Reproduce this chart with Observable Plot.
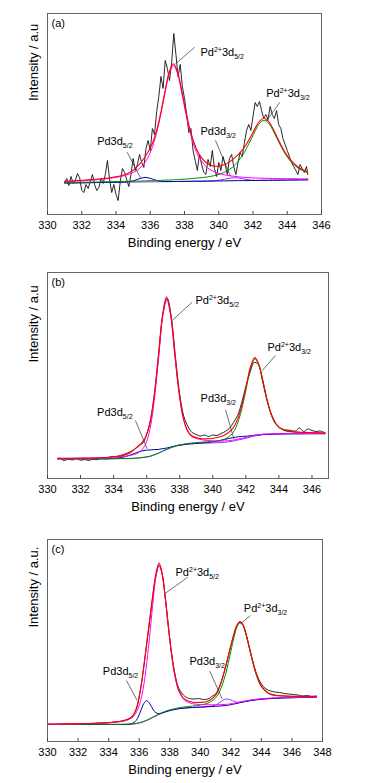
<!DOCTYPE html>
<html><head><meta charset="utf-8">
<script src="https://cdn.jsdelivr.net/npm/d3@7"></script>
<script src="https://cdn.jsdelivr.net/npm/@observablehq/plot@0.6"></script>
<style>
body{margin:0;background:#fff;}
#wrap{width:367px;}
#wrap svg{display:block;}
</style></head><body><div id="wrap"></div>
<script>
// ---------- Panel (a) ----------
const ticksA = [330, 332, 334, 336, 338, 340, 342, 344, 346];
const energyA = [331, 332, 333, 334, 334.5, 335, 335.35, 335.7, 336.05, 336.35, 336.6, 336.85, 337.1, 337.35, 337.6, 337.85, 338.1, 338.35, 338.6, 338.85, 339.35, 339.85, 340.35, 340.9, 341.4, 341.65, 341.9, 342.15, 342.4, 342.65, 342.9, 343.15, 343.4, 343.65, 343.9, 344.15, 344.65, 345.2];
const envelopeA = [33.3, 34.2, 35.5, 37.8, 39.8, 44.1, 49.8, 57.7, 68.2, 82.7, 100.6, 122.2, 142.0, 150.7, 142.4, 122.9, 101.4, 83.2, 69.7, 60.4, 50.8, 48.2, 50.0, 56.2, 64.9, 71.2, 78.8, 87.1, 93.6, 96.2, 93.4, 86.4, 77.6, 69.1, 61.5, 55.4, 47.3, 42.6];
const pd2_52A = [33.0, 33.7, 35.0, 37.1, 38.9, 42.0, 45.7, 52.2, 63.9, 80.1, 98.8, 120.6, 140.4, 149.0, 140.5, 120.8, 99.1, 80.6, 66.8, 57.1, 46.6, 42.0, 39.6, 38.2, 37.3, 37.0, 36.7, 36.5, 36.3, 36.2, 36.1, 36.0, 35.9, 35.9, 35.8, 35.8, 35.7, 35.6];
const pd2_32A = [31.9, 32.2, 32.5, 32.9, 33.1, 33.3, 33.4, 33.6, 33.8, 33.9, 34.1, 34.4, 34.5, 34.7, 34.9, 35.2, 35.4, 35.8, 36.2, 36.6, 37.6, 39.3, 42.3, 48.8, 59.6, 67.1, 75.7, 84.4, 91.4, 94.2, 91.5, 84.7, 76.0, 67.6, 60.1, 54.1, 46.2, 41.7];
const pd0_52A = [31.5, 31.7, 32.0, 32.2, 32.4, 33.6, 35.7, 37.1, 35.9, 34.1, 33.3, 33.0, 32.9, 33.0, 33.0, 33.1, 33.1, 33.2, 33.3, 33.3, 33.4, 33.5, 33.6, 33.8, 33.9, 33.9, 34.0, 34.0, 34.1, 34.2, 34.2, 34.3, 34.3, 34.4, 34.4, 34.5, 34.6, 34.7];
const pd0_32A = [31.5, 31.7, 32.0, 32.2, 32.3, 32.4, 32.5, 32.6, 32.7, 32.7, 32.8, 32.9, 32.9, 33.0, 33.0, 33.1, 33.1, 33.2, 33.3, 33.3, 33.4, 33.9, 35.3, 36.8, 35.8, 34.9, 34.4, 34.15, 34.1, 34.2, 34.2, 34.3, 34.3, 34.4, 34.4, 34.5, 34.6, 34.7];
const rawEnergyA = [331.000, 331.125, 331.250, 331.375, 331.500, 331.625, 331.750, 331.875, 332.000, 332.125, 332.250, 332.375, 332.500, 332.625, 332.750, 332.875, 333.000, 333.125, 333.250, 333.375, 333.500, 333.625, 333.750, 333.875, 334.000, 334.125, 334.250, 334.375, 334.500, 334.625, 334.750, 334.875, 335.000, 335.125, 335.250, 335.375, 335.500, 335.625, 335.750, 335.875, 336.000, 336.125, 336.250, 336.375, 336.500, 336.625, 336.750, 336.875, 337.000, 337.125, 337.250, 337.375, 337.500, 337.625, 337.750, 337.875, 338.000, 338.125, 338.250, 338.375, 338.500, 338.625, 338.750, 338.875, 339.000, 339.125, 339.250, 339.375, 339.500, 339.625, 339.750, 339.875, 340.000, 340.125, 340.250, 340.375, 340.500, 340.625, 340.750, 340.875, 341.000, 341.125, 341.250, 341.375, 341.500, 341.625, 341.750, 341.875, 342.000, 342.125, 342.250, 342.375, 342.500, 342.625, 342.750, 342.875, 343.000, 343.125, 343.250, 343.375, 343.500, 343.625, 343.750, 343.875, 344.000, 344.125, 344.250, 344.375, 344.500, 344.625, 344.750, 344.875, 345.000, 345.125, 345.200];
const rawA = [32, 36, 29, 38, 31, 34, 41, 37, 24, 22, 30, 26, 33, 40, 30, 24, 27, 36, 31, 40, 54, 35, 22, 30, 20, 14, 33, 46, 42, 35, 28, 40, 56, 44, 50, 60, 52, 47, 66, 74, 64, 86, 80, 103, 118, 138, 126, 154, 146, 134, 152, 181, 160, 138, 150, 128, 116, 100, 82, 86, 64, 54, 44, 60, 50, 42, 40, 55, 48, 64, 46, 38, 52, 44, 58, 50, 40, 56, 60, 48, 40, 52, 62, 58, 72, 84, 90, 84, 98, 112, 108, 113, 104, 96, 100, 95, 108, 100, 96, 104, 90, 86, 76, 70, 64, 58, 52, 48, 44, 40, 50, 46, 42, 48, 40];

// ---------- Panel (b) ----------
const ticksB = [330, 332, 334, 336, 338, 340, 342, 344, 346];
const energyB = [330.6, 331, 332, 333, 334, 334.5, 335, 335.5, 335.9, 336.2, 336.45, 336.7, 336.95, 337.2, 337.45, 337.7, 337.95, 338.2, 338.45, 338.7, 339.2, 339.7, 340.2, 340.7, 341.2, 341.55, 341.8, 342.05, 342.3, 342.55, 342.8, 343.05, 343.3, 343.55, 343.8, 344.3, 344.8, 345.3, 345.8, 346.3, 346.8];
const envelopeB = [20.2, 20.2, 20.4, 20.7, 21.7, 23.4, 26.7, 32.1, 40.4, 56.2, 82.7, 121.3, 162.5, 181.8, 164.3, 124.8, 87.3, 61.7, 48.7, 43.0, 40.0, 39.7, 40.7, 43.3, 49.8, 61.6, 76.1, 94.8, 112.7, 120.9, 113.4, 96.4, 77.8, 63.7, 55.0, 48.4, 46.9, 46.3, 46.0, 45.7, 45.5];
const pd2_52B = [20.1, 20.1, 20.3, 20.6, 21.2, 21.9, 23.0, 25.8, 33.2, 49.4, 77.0, 117.0, 159.5, 179.8, 163.0, 124.0, 86.6, 61.1, 48.1, 42.3, 39.1, 38.0, 37.4, 37.5, 38.3, 39.5, 40.3, 41.1, 42.2, 43.2, 43.7, 44.4, 44.5, 44.7, 44.8, 44.9, 45.0, 45.0, 45.0, 45.0, 45.0];
const pd2_32B = [19.8, 19.8, 19.8, 19.8, 19.9, 20.0, 20.1, 20.6, 21.4, 22.3, 23.8, 25.3, 27.4, 29.2, 31.0, 32.4, 33.6, 34.2, 35.0, 35.4, 36.2, 36.7, 37.5, 39.2, 45.3, 57.6, 72.7, 92.2, 110.9, 119.6, 112.5, 95.7, 77.3, 63.3, 54.6, 48.1, 46.6, 46.0, 45.8, 45.5, 45.4];
const pd0B = [19.7, 19.7, 19.7, 19.7, 20.0, 21.1, 23.4, 26.5, 28.2, 28.5, 28.9, 29.0, 29.8, 30.4, 31.5, 32.4, 33.3, 33.8, 34.4, 34.7, 35.3, 36.0, 37.2, 39.0, 40.8, 41.75, 42.1, 42.3, 42.8, 43.3, 43.6, 44.1, 44.2, 44.3, 44.4, 44.6, 44.7, 44.7, 44.8, 44.8, 44.8];
const backgroundB = [19.7, 19.7, 19.7, 19.7, 19.7, 19.8, 19.9, 20.4, 21.2, 22.0, 23.5, 25.0, 27.1, 28.8, 30.6, 32.0, 33.1, 33.7, 34.4, 34.7, 35.3, 35.5, 35.7, 36.2, 37.3, 38.6, 39.5, 40.4, 41.6, 42.6, 43.2, 43.9, 44.1, 44.3, 44.4, 44.6, 44.7, 44.7, 44.8, 44.8, 44.8];
const rawEnergyB = [330.75, 331.00, 331.25, 331.50, 331.75, 332.00, 332.25, 332.50, 332.75, 333.00, 333.25, 333.50, 333.75, 334.00, 334.25, 334.50, 334.75, 335.00, 335.25, 335.50, 335.75, 336.00, 336.25, 336.50, 336.75, 337.00, 337.25, 337.50, 337.75, 338.00, 338.25, 338.50, 338.75, 339.00, 339.25, 339.50, 339.75, 340.00, 340.25, 340.50, 340.75, 341.00, 341.25, 341.50, 341.75, 342.00, 342.25, 342.50, 342.75, 343.00, 343.25, 343.50, 343.75, 344.00, 344.25, 344.50, 344.75, 345.00, 345.25, 345.50, 345.75, 346.00, 346.25, 346.50, 346.75];
const rawB = [20.5, 18.0, 19.5, 18.5, 20.0, 18.2, 19.0, 18.0, 19.5, 18.8, 20.5, 19.5, 21.5, 22.0, 21.5, 22.5, 24.0, 25.5, 29.0, 33.0, 35.0, 44.0, 60.0, 88.0, 128.0, 166.0, 180.0, 160.0, 120.0, 84.0, 62.0, 52.0, 46.0, 44.0, 42.5, 43.5, 42.0, 43.5, 43.0, 45.0, 47.0, 50.0, 56.0, 63.0, 76.0, 92.0, 106.0, 116.0, 114.0, 98.0, 80.0, 66.0, 57.0, 51.0, 49.0, 48.5, 48.0, 47.5, 50.5, 47.0, 49.5, 48.0, 47.0, 47.5, 46.0];

// ---------- Panel (c) ----------
const ticksC = [330, 332, 334, 336, 338, 340, 342, 344, 346, 348];
const energyC = [330, 331, 332, 333, 334, 334.5, 335, 335.5, 335.8, 336.1, 336.3, 336.5, 336.7, 336.9, 337.1, 337.3, 337.5, 337.7, 337.9, 338.1, 338.3, 338.6, 339, 339.5, 340, 340.5, 341, 341.3, 341.65, 342, 342.2, 342.4, 342.6, 342.8, 343, 343.2, 343.4, 343.7, 344, 344.5, 345, 345.5, 346, 346.5, 347, 347.6];
const envelopeC = [17.5, 17.6, 17.9, 18.3, 19.0, 19.6, 20.8, 24.2, 32.2, 53.4, 75.0, 99.2, 123.4, 147.6, 168.5, 178.5, 168.4, 144.9, 116.5, 90.0, 69.5, 51.1, 42.0, 39.3, 39.1, 40.3, 46.2, 56.2, 74.5, 95.8, 107.4, 116.3, 119.9, 116.5, 107.0, 94.6, 81.8, 65.7, 55.4, 48.0, 46.2, 45.6, 45.3, 45.2, 45.2, 45.1];
const pd2_52C = [17.4, 17.5, 17.7, 18.1, 18.8, 19.4, 20.5, 23.5, 28.7, 41.2, 56.5, 79.0, 107.7, 138.8, 164.8, 176.0, 167.6, 144.3, 115.8, 89.3, 68.7, 50.2, 40.9, 37.8, 37.0, 36.7, 36.7, 36.8, 37.1, 37.7, 38.25, 38.9, 39.5, 40.2, 40.7, 41.3, 41.75, 42.3, 42.8, 43.3, 43.65, 43.9, 44.1, 44.25, 44.4, 44.5];
const pd2_32C = [17.1, 17.1, 17.1, 17.2, 17.2, 17.2, 17.3, 17.6, 18.1, 19.2, 20.2, 21.4, 22.8, 24.5, 26.0, 27.5, 28.9, 30.1, 31.2, 32.0, 32.8, 33.7, 34.6, 35.5, 36.5, 38.3, 43.5, 51.1, 67.0, 90.1, 103.7, 114.3, 118.8, 115.7, 106.4, 94.0, 81.2, 65.2, 54.9, 47.6, 45.8, 45.3, 45.1, 45.0, 45.0, 44.9];
const pd0_52C = [17.0, 17.0, 17.0, 17.0, 17.0, 17.0, 17.0, 17.7, 21.0, 30.6, 37.9, 40.8, 37.7, 32.3, 28.7, 27.9, 28.5, 29.5, 30.5, 31.3, 32.0, 32.8, 33.5, 34.0, 34.4, 34.8, 35.2, 35.5, 36.0, 36.8, 37.4, 38.1, 38.8, 39.5, 40.1, 40.7, 41.2, 41.8, 42.3, 42.9, 43.3, 43.6, 43.8, 44.0, 44.2, 44.3];
const pd0_32C = [17.0, 17.0, 17.0, 17.0, 17.0, 17.0, 17.0, 17.3, 17.8, 18.8, 19.8, 21.0, 22.4, 24.0, 25.5, 27.0, 28.3, 29.5, 30.5, 31.3, 32.0, 32.8, 33.5, 34.0, 34.4, 34.85, 36.4, 39.3, 42.4, 41.6, 40.2, 39.3, 39.2, 39.6, 40.1, 40.7, 41.2, 41.8, 42.3, 42.9, 43.3, 43.6, 43.8, 44.0, 44.2, 44.3];
const rawEnergyC = [330, 330.5, 331, 331.5, 332, 332.5, 333, 333.5, 334, 334.5, 335, 335.5, 335.8, 336.1, 336.3, 336.5, 336.7, 336.9, 337.1, 337.3, 337.5, 337.7, 337.9, 338.1, 338.3, 338.6, 339.0, 339.3, 339.6, 339.9, 340.2, 340.5, 340.8, 341.0, 341.3, 341.65, 342.0, 342.2, 342.4, 342.6, 342.8, 343.0, 343.2, 343.4, 343.7, 344.0, 344.3, 344.6, 344.9, 345.2, 345.5, 345.8, 346.1, 346.4, 346.7, 347.0, 347.3, 347.6];
const rawC = [17.2, 17.0, 17.4, 17.1, 17.6, 17.5, 18.0, 18.2, 18.6, 19.6, 21.0, 24.5, 32.0, 53.0, 74.0, 98.0, 122.0, 146.0, 166.0, 176.5, 168.0, 145.5, 117.0, 91.0, 71.0, 53.0, 45.0, 43.0, 42.5, 43.0, 42.0, 42.5, 45.5, 47.5, 56.5, 74.0, 95.5, 107.0, 116.0, 119.5, 116.5, 107.5, 95.0, 82.5, 67.0, 57.5, 52.5, 50.5, 49.5, 49.0, 48.0, 47.5, 47.0, 46.5, 45.5, 46.0, 45.0, 45.5];

// ---------- Peak annotations (data coordinates) ----------
const notesA = [
  {tx: 338.93, ty: 159, a: "Pd", sup: "2+", b: "3d", sub: "5/2", x1: 338.60, y1: 167.3, x2: 337.47, y2: 150.7},
  {tx: 342.77, ty: 117.3, a: "Pd", sup: "2+", b: "3d", sub: "3/2", x1: 343.57, y1: 112.3, x2: 342.77, y2: 93.3},
  {tx: 332.90, ty: 70, a: "Pd3d", sup: "", b: "", sub: "5/2", x1: 334.65, y1: 62.3, x2: 335.43, y2: 36.7},
  {tx: 338.93, ty: 79.7, a: "Pd3d", sup: "", b: "", sub: "3/2", x1: 339.81, y1: 74, x2: 340.69, y2: 38}
];
const notesB = [
  {tx: 338.95, ty: 174.7, a: "Pd", sup: "2+", b: "3d", sub: "5/2", x1: 338.75, y1: 176.3, x2: 337.54, y2: 158},
  {tx: 343.31, ty: 128, a: "Pd", sup: "2+", b: "3d", sub: "3/2", x1: 343.79, y1: 123, x2: 342.99, y2: 108},
  {tx: 333.0, ty: 63, a: "Pd3d", sup: "", b: "", sub: "5/2", x1: 335.32, y1: 58, x2: 336.03, y2: 29.7},
  {tx: 339.26, ty: 76.3, a: "Pd3d", sup: "", b: "", sub: "3/2", x1: 340.77, y1: 68.7, x2: 341.27, y2: 39.7}
];
const notesC = [
  {tx: 338.38, ty: 166, a: "Pd", sup: "2+", b: "3d", sub: "5/2", x1: 339.18, y1: 164.3, x2: 337.72, y2: 148.3},
  {tx: 342.85, ty: 129.3, a: "Pd", sup: "2+", b: "3d", sub: "3/2", x1: 343.29, y1: 126, x2: 342.63, y2: 117.7},
  {tx: 333.62, ty: 67, a: "Pd3d", sup: "", b: "", sub: "5/2", x1: 335.17, y1: 61, x2: 335.87, y2: 41},
  {tx: 339.29, ty: 77, a: "Pd3d", sup: "", b: "", sub: "3/2", x1: 340.62, y1: 70.3, x2: 341.43, y2: 42.7}
];

const FONT = "'Liberation Sans', Arial, Helvetica, sans-serif";
const COL = {raw: "#111111", env: "#ff0000", p52: "#ff00ff", p32: "#009000", navy: "#000099", violet: "#9a30ff"};

function rows(E, V) { return E.map((e, i) => ({e, v: V[i]})); }
const noteText = d => d.a + d.sup + d.b + d.sub;

function panel(o) {
  const marks = [];
  marks.push(Plot.lineY(rows(o.rawE, o.raw), {x: "e", y: "v", stroke: COL.raw, strokeWidth: 0.9, curve: o.rawCurve}));
  for (const c of o.curves) {
    marks.push(Plot.lineY(rows(o.E, c.v), {x: "e", y: "v", stroke: c.color, strokeWidth: c.w || 1, curve: "catmull-rom"}));
  }
  marks.push(Plot.frame({stroke: "#666", strokeWidth: 1}));
  marks.push(Plot.ruleX(o.ticks, {x: d => d, y1: 0, y2: 3, stroke: "#444"}));
  marks.push(Plot.text(o.ticks, {x: d => d, frameAnchor: "bottom", dy: 11, text: d => String(d), fontSize: 11, lineAnchor: "middle", fill: "#000"}));
  marks.push(Plot.text(["Binding energy / eV"], {frameAnchor: "bottom", dy: 28, text: d => d, fontSize: 13, lineAnchor: "middle", fill: "#000"}));
  marks.push(Plot.text([o.ylabel], {frameAnchor: "left", rotate: -90, dx: -14, dy: -13, text: d => d, fontSize: 13, lineAnchor: "middle", fill: "#000"}));
  marks.push(Plot.text([o.letter], {frameAnchor: "top-left", dx: 4, dy: 10, text: d => d, fontSize: 11, textAnchor: "start", lineAnchor: "middle", fill: "#000"}));
  marks.push(Plot.link(o.notes, {x1: "x1", y1: "y1", x2: "x2", y2: "y2", stroke: "#333", strokeWidth: 0.7}));
  marks.push(Plot.text(o.notes, {x: "tx", y: "ty", text: noteText, textAnchor: "start", lineAnchor: "bottom", fontSize: 11, fill: "#000"}));
  const svg = Plot.plot({
    width: 367, height: o.height,
    marginTop: o.mt, marginBottom: o.mb, marginLeft: 47, marginRight: o.mr,
    x: {domain: o.domain, axis: null},
    y: {domain: [0, o.yMax], axis: null},
    style: {fontFamily: FONT, background: "#fff", color: "#000", overflow: "visible"},
    marks
  });
  // Turn the peak labels into real sup/subscript text
  const NS = "http://www.w3.org/2000/svg";
  const pending = o.notes.slice();
  svg.querySelectorAll("text").forEach(t => {
    const k = pending.findIndex(d => noteText(d) === t.textContent);
    if (k < 0) return;
    const d = pending.splice(k, 1)[0];
    t.textContent = "";
    const add = (s, size, dy) => {
      const ts = document.createElementNS(NS, "tspan");
      ts.textContent = s;
      if (size) ts.setAttribute("font-size", size);
      if (dy) ts.setAttribute("dy", dy);
      t.appendChild(ts);
    };
    add(d.a, null, 0);
    if (d.sup) { add(d.sup, 7, -4); add(d.b, 11, 4); }
    add(d.sub, 7, 3);
  });
  return svg;
}

const wrap = document.getElementById("wrap");
wrap.appendChild(panel({
  letter: "(a)", ylabel: "Intensity / a.u", domain: [330, 346], ticks: ticksA, yMax: 201,
  height: 255, mt: 13, mb: 41, mr: 46,
  rawE: rawEnergyA, raw: rawA, rawCurve: "linear", E: energyA, notes: notesA,
  curves: [
    {v: pd0_32A, color: COL.violet},
    {v: pd0_52A, color: COL.navy},
    {v: pd2_32A, color: COL.p32},
    {v: pd2_52A, color: COL.p52},
    {v: envelopeA, color: COL.env, w: 1.1}
  ]
}));
wrap.appendChild(panel({
  letter: "(b)", ylabel: "Intensity / a.u", domain: [330, 347], ticks: ticksB, yMax: 206,
  height: 265, mt: 17, mb: 42, mr: 39,
  rawE: rawEnergyB, raw: rawB, rawCurve: "catmull-rom", E: energyB, notes: notesB,
  curves: [
    {v: backgroundB, color: COL.violet},
    {v: pd0B, color: COL.navy},
    {v: pd2_32B, color: COL.p32},
    {v: pd2_52B, color: COL.p52},
    {v: envelopeB, color: COL.env, w: 1.1}
  ]
}));
wrap.appendChild(panel({
  letter: "(c)", ylabel: "Intensity / a.u.", domain: [330, 348], ticks: ticksC, yMax: 202,
  height: 263, mt: 19, mb: 42, mr: 45,
  rawE: rawEnergyC, raw: rawC, rawCurve: "catmull-rom", E: energyC, notes: notesC,
  curves: [
    {v: pd0_32C, color: COL.violet},
    {v: pd0_52C, color: COL.navy},
    {v: pd2_32C, color: COL.p32},
    {v: pd2_52C, color: COL.p52},
    {v: envelopeC, color: COL.env, w: 1.1}
  ]
}));
</script>
</body></html>
